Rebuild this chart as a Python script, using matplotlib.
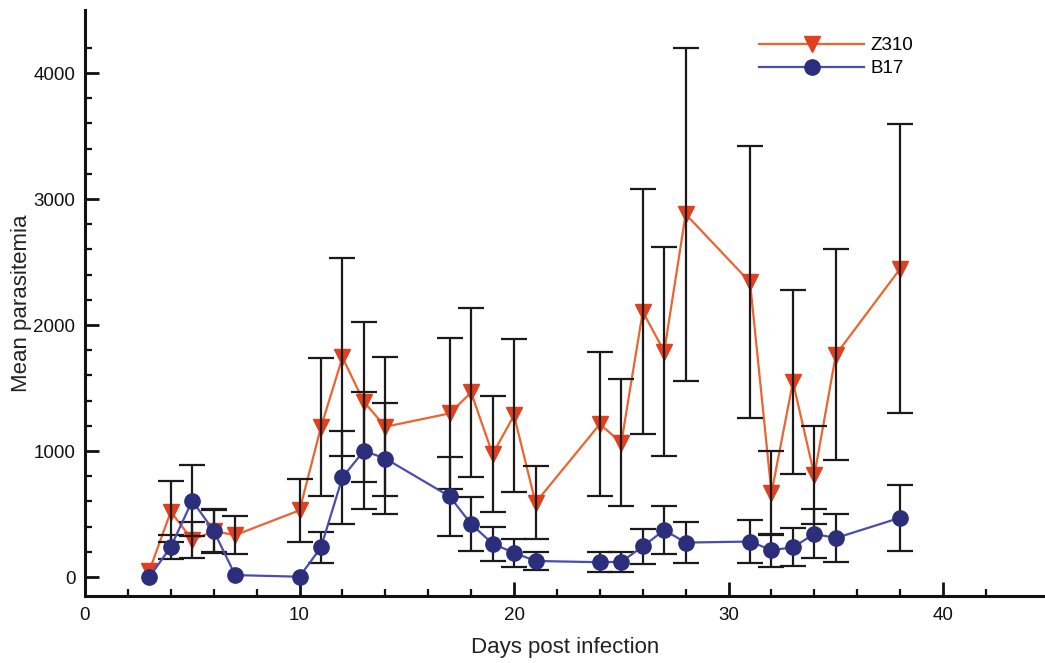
import numpy as np
import matplotlib
matplotlib.use("Agg")
import matplotlib.pyplot as plt
from matplotlib.ticker import FixedLocator

plt.rcParams['font.family'] = ['Liberation Sans', 'DejaVu Sans']

# Z310 group: day, mean parasitemia, error
z310_days = [3, 4, 5, 6, 7, 10, 11, 12, 13, 14, 17, 18, 19, 20, 21,
             24, 25, 26, 27, 28, 31, 32, 33, 34, 35, 38]
z310_mean = [50, 520, 294, 365, 333, 530, 1190, 1743, 1391, 1193, 1299, 1465, 975, 1284, 590,
             1214, 1066, 2106, 1790, 2880, 2340, 668, 1549, 808, 1765, 2447]
z310_err = [0, 245, 140, 170, 152, 250, 550, 786, 635, 550, 600, 672, 462, 605, 290,
            570, 505, 970, 830, 1320, 1080, 330, 730, 390, 835, 1145]

# B17 group
b17_days = [3, 4, 5, 6, 7, 10, 11, 12, 13, 14, 17, 18, 19, 20, 21,
            24, 25, 26, 27, 28, 31, 32, 33, 34, 35, 38]
b17_mean = [0, 240, 606, 367, 16, 3, 236, 791, 1002, 941, 640, 421, 265, 193, 128,
            118, 121, 243, 373, 274, 282, 214, 236, 343, 310, 471]
b17_err = [0, 95, 283, 170, 0, 0, 123, 370, 465, 440, 310, 215, 135, 110, 75,
           80, 80, 140, 190, 160, 170, 130, 150, 195, 190, 260]

red_line = '#EC6430'
red_mark = '#E0401E'
blue_line = '#4B4CB0'
blue_mark = '#2B2E7A'

fig = plt.figure(figsize=(10.45, 6.63), dpi=100)
ax = fig.add_axes([85 / 1045, 67 / 663, 960 / 1045, 586 / 663])


def draw_errors(days, mean, err):
    # points with no spread get no bar
    keep = [i for i, e in enumerate(err) if e > 0]
    ax.errorbar([days[i] for i in keep], [mean[i] for i in keep],
                yerr=[err[i] for i in keep], fmt='none', ecolor='#1a1a1a',
                elinewidth=1.6, capsize=9.5, capthick=1.6, zorder=3)


draw_errors(z310_days, z310_mean, z310_err)
draw_errors(b17_days, b17_mean, b17_err)

z_line, = ax.plot(z310_days, z310_mean, color=red_line, lw=1.6, marker='v',
                  markersize=11, markerfacecolor=red_mark, markeredgecolor=red_mark,
                  zorder=2, label='Z310')
b_line, = ax.plot(b17_days, b17_mean, color=blue_line, lw=1.6, marker='o',
                  markersize=11, markerfacecolor=blue_mark, markeredgecolor=blue_mark,
                  zorder=4, label='B17')

ax.set_xlim(0, 44.75)
ax.set_ylim(-150, 4500)

for side in ['top', 'right']:
    ax.spines[side].set_visible(False)
for side in ['left', 'bottom']:
    ax.spines[side].set_linewidth(2.2)
    ax.spines[side].set_color('#111111')

ax.xaxis.set_major_locator(FixedLocator([0, 10, 20, 30, 40]))
ax.xaxis.set_minor_locator(FixedLocator(np.arange(2, 44, 2)))
ax.yaxis.set_major_locator(FixedLocator([0, 1000, 2000, 3000, 4000]))
ax.yaxis.set_minor_locator(FixedLocator(np.arange(200, 4201, 200)))

ax.tick_params(which='major', direction='in', length=10, width=2, labelsize=13.5,
               colors='#111111')
ax.tick_params(which='minor', direction='in', length=5, width=1.6, colors='#111111')
ax.tick_params(axis='x', which='major', pad=8)
ax.tick_params(axis='y', which='major', pad=7)

ax.set_xlabel('Days post infection', fontsize=16, color='#222222')
ax.set_ylabel('Mean parasitemia', fontsize=16, color='#222222')
ax.xaxis.set_label_coords(0.5, -0.07)
ax.yaxis.set_label_coords(-0.055, 0.5)

ax.legend(handles=[z_line, b_line], loc='upper left', frameon=False,
          bbox_to_anchor=(750 / 1045, 1 - 28 / 663), bbox_transform=fig.transFigure,
          handlelength=5.6, handletextpad=0.3, labelspacing=0.3, fontsize=13.5,
          numpoints=1, borderpad=0)

fig.savefig('out.png', dpi=100)
